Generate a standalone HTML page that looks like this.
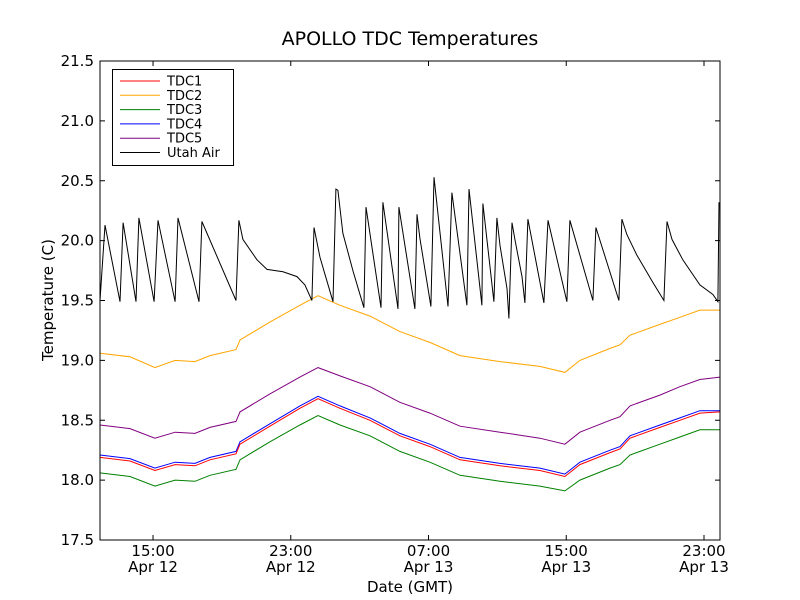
<!DOCTYPE html>
<html><head><meta charset="utf-8"><style>
body{margin:0;background:#fff;}
svg{display:block;font-family:"DejaVu Sans","Liberation Sans",sans-serif;}
</style></head><body>
<svg id="chart" width="800" height="600" xmlns="http://www.w3.org/2000/svg">
<rect width="800" height="600" fill="#fff"/>
<text x="410" y="45" font-size="19" text-anchor="middle">APOLLO TDC Temperatures</text>
<text x="410" y="592" font-size="15" text-anchor="middle">Date (GMT)</text>
<text x="0" y="0" font-size="15" text-anchor="middle" transform="translate(53,300) rotate(-90)">Temperature (C)</text>
<g id="series"></g>
<g id="axes"></g>
<g id="legend"></g>
</svg>
<script>
const yTicks=[17.5,18.0,18.5,19.0,19.5,20.0,20.5,21.0,21.5];
const xTickHours=[15,23,31,39,47];
const xTickTimes=["15:00","23:00","07:00","15:00","23:00"];
const xTickDates=["Apr 12","Apr 12","Apr 13","Apr 13","Apr 13"];
const seriesNames=["TDC1","TDC2","TDC3","TDC4","TDC5","Utah Air"];
const seriesColors=["red","orange","green","blue","purple","black"];
const warmHours=[11.92,13.66,15.11,16.28,17.44,18.31,19.82,20.05,21.79,23.53,24.58,25.86,27.60,29.34,31.08,32.83,35.15,37.47,38.92,39.79,41.54,42.12,42.70,44.44,45.60,46.76,47.93];
const tdc2=[19.06,19.03,18.94,19.00,18.99,19.04,19.09,19.17,19.32,19.46,19.54,19.46,19.37,19.24,19.15,19.04,18.99,18.95,18.90,19.00,19.10,19.13,19.21,19.30,19.36,19.42,19.42];
const tdc5=[18.46,18.43,18.35,18.40,18.39,18.44,18.49,18.57,18.72,18.86,18.94,18.87,18.78,18.65,18.56,18.45,18.40,18.35,18.30,18.40,18.50,18.53,18.62,18.71,18.78,18.84,18.86];
const tdc4=[18.21,18.18,18.10,18.15,18.14,18.19,18.24,18.32,18.47,18.62,18.70,18.62,18.52,18.39,18.30,18.19,18.14,18.10,18.05,18.15,18.25,18.28,18.37,18.46,18.52,18.58,18.58];
const tdc1=[18.19,18.16,18.08,18.13,18.12,18.17,18.22,18.30,18.45,18.60,18.68,18.60,18.50,18.37,18.28,18.17,18.12,18.08,18.03,18.13,18.23,18.26,18.35,18.44,18.50,18.56,18.57];
const tdc3=[18.06,18.03,17.95,18.00,17.99,18.04,18.09,18.17,18.32,18.46,18.54,18.46,18.37,18.24,18.15,18.04,17.99,17.95,17.91,18.00,18.10,18.13,18.21,18.30,18.36,18.42,18.42];
const airHours=[11.92,12.21,13.08,13.26,14.01,14.18,15.06,15.29,16.28,16.45,17.67,17.84,19.82,19.99,20.22,21.04,21.62,22.55,23.36,23.82,24.23,24.35,24.70,25.45,25.62,25.74,26.03,26.61,27.25,27.37,28.24,28.35,29.23,29.28,30.21,30.33,30.50,31.14,31.32,32.13,32.36,33.23,33.35,34.10,34.16,34.80,34.97,35.15,35.56,35.67,35.85,36.02,36.43,36.60,36.77,37.70,37.94,39.04,39.21,40.55,40.72,42.06,42.23,42.52,43.10,44.03,44.67,44.85,45.14,45.77,46.76,47.52,47.81,47.87];
const utahAir=[19.50,20.13,19.49,20.15,19.49,20.19,19.49,20.17,19.49,20.19,19.49,20.16,19.50,20.17,20.01,19.84,19.76,19.74,19.70,19.63,19.50,20.11,19.86,19.49,20.43,20.42,20.06,19.75,19.44,20.28,19.44,20.32,19.43,20.28,19.43,20.22,20.02,19.45,20.53,19.45,20.40,19.46,20.43,19.46,20.31,19.49,20.19,19.96,19.60,19.35,20.15,20.01,19.70,19.48,20.18,19.48,20.17,19.49,20.17,19.50,20.11,19.50,20.18,20.05,19.88,19.65,19.50,20.16,20.01,19.84,19.63,19.55,19.49,20.32];

const L=100,R=720,T=61,B=540,H0=11.92,H1=47.93,V0=17.5,V1=21.5;
const xs=h=>L+(h-H0)/(H1-H0)*(R-L);
const ys=v=>B-(v-V0)/(V1-V0)*(B-T);
const NS="http://www.w3.org/2000/svg";
function mk(tag,attrs,parent){const e=document.createElementNS(NS,tag);for(const k in attrs)e.setAttribute(k,attrs[k]);parent.appendChild(e);return e;}
const sg=document.getElementById('series');
function drawLine(hours,vals,color,name){
  const d=hours.map((h,i)=>(i?'L':'M')+xs(h).toFixed(1)+' '+ys(vals[i]).toFixed(1)).join(' ');
  const p=mk('path',{d:d,fill:'none',stroke:color,'stroke-width':1},sg);
  
  
}
drawLine(warmHours,tdc2,'orange','tdc2-line');
drawLine(warmHours,tdc5,'purple','tdc5-line');
drawLine(warmHours,tdc3,'green','tdc3-line');
drawLine(warmHours,tdc4,'blue','tdc4-line');
drawLine(warmHours,tdc1,'red','tdc1-line');
drawLine(airHours,utahAir,'black','utah-air-line');

const ag=document.getElementById('axes');
const frame=mk('rect',{x:L,y:T,width:R-L,height:B-T,fill:'none',stroke:'#000','stroke-width':1},ag);


yTicks.forEach(v=>{
  const y=ys(v);
  mk('line',{x1:L,x2:L+5,y1:y,y2:y,stroke:'#000'},ag);
  mk('line',{x1:R,x2:R-5,y1:y,y2:y,stroke:'#000'},ag);
  const t=mk('text',{x:L-6,y:y+5,'font-size':15,'text-anchor':'end'},ag);
  t.textContent=v.toFixed(1);
  
  
});
xTickHours.forEach((h,i)=>{
  const x=xs(h);
  mk('line',{x1:x,x2:x,y1:B,y2:B-5,stroke:'#000'},ag);
  mk('line',{x1:x,x2:x,y1:T,y2:T+5,stroke:'#000'},ag);
  const t=mk('text',{x:x,y:556,'font-size':15,'text-anchor':'middle'},ag);
  t.textContent=xTickTimes[i];
  
  
  const t2=mk('text',{x:x,y:572,'font-size':15,'text-anchor':'middle'},ag);
  t2.textContent=xTickDates[i];
  
  
});

const lg=document.getElementById('legend');
mk('rect',{x:112.5,y:69.5,width:121,height:96,fill:'#fff',stroke:'#000'},lg);
seriesNames.forEach((n,i)=>{
  const y=81+i*14.3;
  const ln=mk('line',{x1:120,x2:160,y1:y,y2:y,stroke:seriesColors[i]},lg);
  
  
  const t=mk('text',{x:167,y:y+4.5,'font-size':13},lg);
  t.textContent=n;
  
  
});
</script>
</body></html>
